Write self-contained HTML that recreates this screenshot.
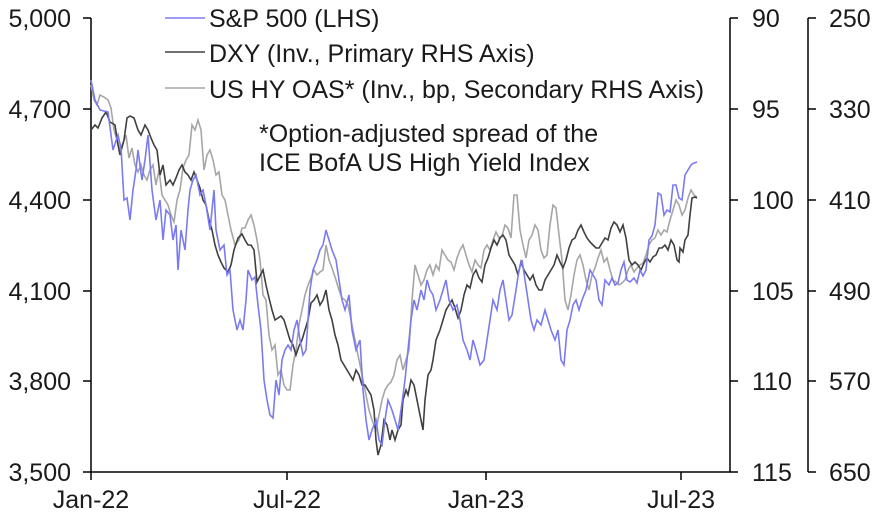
<!DOCTYPE html>
<html><head><meta charset="utf-8"><style>
html,body{margin:0;padding:0;background:#fff}
svg{display:block;font-family:"Liberation Sans",Arial,sans-serif}
</style></head><body>
<svg width="878" height="519" viewBox="0 0 878 519">
<g font-size="25" fill="#1a1a1a">
<text x="71" y="27" text-anchor="end">5,000</text>
<text x="71" y="118" text-anchor="end">4,700</text>
<text x="71" y="209" text-anchor="end">4,400</text>
<text x="71" y="300" text-anchor="end">4,100</text>
<text x="71" y="390" text-anchor="end">3,800</text>
<text x="71" y="481" text-anchor="end">3,500</text>
<text x="752" y="27">90</text>
<text x="752" y="118">95</text>
<text x="752" y="209">100</text>
<text x="752" y="300">105</text>
<text x="752" y="390">110</text>
<text x="752" y="481">115</text>
<text x="829" y="27">250</text>
<text x="829" y="118">330</text>
<text x="829" y="209">410</text>
<text x="829" y="300">490</text>
<text x="829" y="390">570</text>
<text x="829" y="481">650</text>
<text x="91" y="508" text-anchor="middle">Jan-22</text>
<text x="287" y="508" text-anchor="middle">Jul-22</text>
<text x="486" y="508" text-anchor="middle">Jan-23</text>
<text x="681" y="508" text-anchor="middle">Jul-23</text>
<text x="209" y="27">S&amp;P 500 (LHS)</text>
<text x="209" y="62">DXY (Inv., Primary RHS Axis)</text>
<text x="209" y="98">US HY OAS* (Inv., bp, Secondary RHS Axis)</text>
<text x="259" y="142">*Option-adjusted spread of the</text>
<text x="259" y="171">ICE BofA US High Yield Index</text>
</g>
<g stroke="#000" stroke-width="1.5" fill="none">
<path d="M91,18V472H730V18"/>
<path d="M83,18H91M83,109H91M83,200H91M83,291H91M83,381H91M83,472H91"/>
<path d="M730,18h8M730,109h8M730,200h8M730,291h8M730,381h8M730,472h8"/>
<path d="M808,18V472M808,18h8M808,109h8M808,200h8M808,291h8M808,381h8M808,472h8"/>
<path d="M287,472v8M486,472v8M681,472v8M91,472v8"/>
</g>
<g stroke-width="1.6" fill="none">
<path stroke="#7b7bf0" d="M165,18H205"/>
<path stroke="#404040" d="M165,52H205"/>
<path stroke="#a6a6a6" d="M165,88H205"/>
<polyline stroke="#a6a6a6" points="91,85 94,100 97,105 100,95 104,97 108,100 111,108 114,130 117,140 120,150 123,143 126,135 129,158 132,148 135,165 138,172 141,165 144,175 147,180 150,170 153,165 156,185 159,170 162,195 165,200 168,205 171,215 174,222 177,200 180,190 183,168 186,160 189,155 192,125 195,130 198,120 201,130 204,170 207,155 210,150 213,160 216,175 219,172 222,195 225,200 228,215 231,230 235,245 239,240 242,228 245,228 248,220 251,215 254,225 257,240 260,260 263,295 266,300 269,335 272,350 275,345 278,375 281,370 284,385 287,390 290,390 293,365 296,350 299,325 302,310 305,295 308,285 311,278 314,270 317,275 320,272 323,270 326,245 329,260 332,268 336,280 339,290 342,298 345,300 348,305 351,320 354,335 357,350 360,365 363,380 366,395 369,410 372,420 376,430 379,415 382,400 385,390 388,385 391,382 394,375 397,360 400,355 403,370 406,360 409,350 412,300 415,265 418,275 421,285 424,280 427,270 430,265 433,275 436,265 439,270 442,250 445,255 448,260 451,262 454,270 457,258 460,250 463,245 466,255 469,265 472,272 475,260 478,265 481,268 484,250 487,245 490,250 493,240 496,232 499,238 502,236 505,225 508,228 511,238 514,195 517,195 520,230 523,245 526,258 529,240 532,235 535,225 538,230 541,250 544,258 547,255 550,225 553,205 556,208 559,235 562,260 565,300 568,310 571,295 574,275 577,260 580,255 583,265 586,280 589,290 592,275 595,268 598,258 601,250 604,262 607,258 610,270 613,280 616,282 619,285 622,283 625,280 628,270 631,265 634,272 637,268 640,265 643,263 646,255 649,245 652,240 655,238 658,230 661,235 664,230 667,232 670,220 673,210 676,200 679,205 682,215 685,210 688,198 691,190 694,195 697,197"/>
<polyline stroke="#404040" points="91,130 95,125 98,128 102,118 106,112 110,122 115,125 118,145 120,155 124,140 127,118 130,116 134,118 138,130 141,135 145,125 148,130 151,138 154,145 157,150 160,175 163,165 166,185 170,180 173,185 176,178 179,170 182,165 185,172 188,175 191,180 194,172 197,180 200,188 203,200 206,205 209,220 212,230 215,245 218,255 221,262 224,268 228,272 231,265 234,250 238,238 242,234 245,240 248,245 251,245 254,250 257,282 260,276 263,270 266,285 269,298 272,310 275,320 278,318 281,316 284,320 287,330 290,340 293,345 296,355 299,346 302,340 305,330 308,320 311,303 314,300 317,295 320,305 323,300 326,290 329,310 332,320 335,335 338,345 341,360 344,365 347,370 350,375 353,380 356,370 359,375 362,385 365,385 368,390 371,395 374,410 376,440 378,455 381,445 384,420 387,425 390,440 392,430 395,440 398,430 401,425 403,400 406,390 408,395 411,380 414,385 417,400 419,410 421,420 423,430 425,400 428,375 431,370 433,360 436,340 440,330 443,320 446,310 449,305 452,300 455,308 458,318 461,310 464,295 467,285 470,288 473,275 476,270 479,278 482,282 485,265 488,258 491,248 494,240 497,245 500,238 503,235 506,240 509,255 512,260 515,265 518,275 521,262 524,270 527,275 530,280 533,275 536,285 539,290 542,290 545,280 548,275 551,270 554,265 557,255 560,262 563,268 566,260 569,248 572,240 575,238 578,230 581,225 584,232 587,238 590,242 593,245 596,248 599,248 602,243 605,238 608,240 611,228 614,222 617,225 620,232 623,225 626,238 629,260 632,265 635,262 638,265 641,270 644,263 647,258 650,262 653,257 656,255 659,248 662,248 665,245 668,250 671,240 674,245 677,260 679,262 680,248 683,252 685,240 688,235 690,215 692,198 695,197 697,198"/>
<polyline stroke="#7b7bf0" points="91,80 95,100 100,110 108,112 113,150 118,135 121,148 124,200 127,198 130,220 133,190 136,170 138,150 142,180 145,160 148,135 152,190 156,220 160,200 163,240 166,210 170,215 173,240 176,225 178,270 181,230 185,250 188,210 190,190 193,180 196,175 200,195 203,190 206,205 210,230 214,190 216,230 220,250 224,245 227,275 230,270 233,310 237,330 240,320 243,330 246,300 248,270 252,280 255,277 258,305 261,330 264,380 267,400 270,415 273,418 276,380 279,395 282,360 285,350 288,345 291,350 294,330 297,320 300,340 303,355 306,350 310,290 313,270 317,260 320,250 323,245 326,230 329,240 332,250 336,260 339,280 342,300 345,310 349,295 352,330 356,350 360,340 363,390 366,420 369,440 372,430 376,420 379,440 382,445 385,420 388,400 392,410 395,420 398,430 401,410 405,380 408,350 411,320 414,300 417,310 421,290 424,300 427,280 430,290 433,295 436,310 440,300 443,290 446,280 449,300 453,310 457,305 460,320 463,340 467,350 470,360 473,340 476,350 480,365 484,360 487,340 490,320 493,300 497,310 500,290 503,280 506,300 509,320 512,315 516,290 519,270 522,260 525,280 528,300 531,320 534,330 537,320 541,325 545,310 548,320 551,330 555,340 558,330 561,360 564,365 567,330 570,320 573,305 576,300 579,310 582,300 586,290 590,270 593,275 596,280 599,300 602,305 605,280 609,285 612,278 615,285 618,283 621,270 624,262 627,280 630,282 634,278 637,283 640,270 643,276 646,270 649,240 652,236 655,225 658,193 661,195 664,215 667,210 670,212 673,185 676,185 679,198 682,200 685,175 688,170 691,165 694,163 697,162"/>
</g>
</svg>
</body></html>
